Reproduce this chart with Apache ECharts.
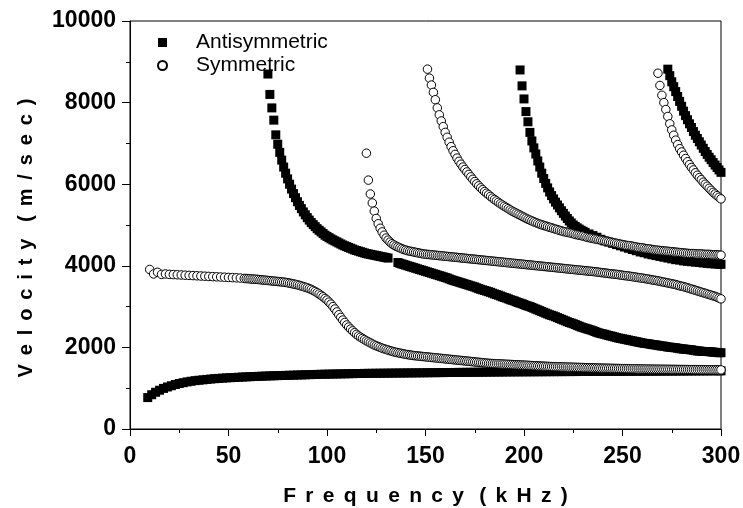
<!DOCTYPE html>
<html><head><meta charset="utf-8">
<script src="https://cdn.jsdelivr.net/npm/echarts@6/dist/echarts.min.js"></script>
<style>html,body{margin:0;padding:0;background:#fff}#c{width:743px;height:508px}</style>
</head><body><div id="c"></div>
<script>
const xTicks = [0, 50, 100, 150, 200, 250, 300];
const yTicks = [0, 2000, 4000, 6000, 8000, 10000];

// Antisymmetric modes [frequency kHz, velocity m/s]
const antiA0 = [[9,770],[11,840],[13,900],[15,950],[17,995],[19,1030],[21,1060],[23,1090],[25,1115],[27,1135],[29,1155],[31,1170],[33,1185],[35,1195],[37,1205],[39,1215],[41,1225],[43,1233],[45,1240],[47,1247],[49,1253],[51,1258],[53,1263],[55,1268],[57,1273],[59,1278],[61,1282],[63,1286],[65,1290],[67,1294],[69,1298],[71,1302],[73,1305],[75,1308],[77,1311],[79,1314],[81,1317],[83,1320],[85,1323],[87,1326],[89,1329],[91,1332],[93,1335],[95,1338],[97,1341],[99,1343],[101,1345],[103,1347],[105,1349],[107,1351],[109,1353],[111,1355],[113,1357],[115,1359],[117,1361],[119,1363],[121,1364],[123,1365],[125,1366],[127,1367],[129,1368],[131,1369],[133,1370],[135,1371],[137,1372],[139,1373],[141,1374],[143,1375],[145,1376],[147,1377],[149,1378],[151,1379],[153,1380],[155,1381],[157,1382],[159,1383],[161,1384],[163,1385],[165,1386],[167,1387],[169,1388],[171,1389],[173,1390],[175,1391],[177,1392],[179,1393],[181,1394],[183,1395],[185,1396],[187,1397],[189,1398],[191,1399],[193,1400],[195,1400],[197,1401],[199,1401],[201,1402],[203,1402],[205,1403],[207,1403],[209,1404],[211,1404],[213,1405],[215,1405],[217,1406],[219,1406],[221,1407],[223,1407],[225,1408],[227,1408],[229,1409],[231,1409],[233,1410],[235,1410],[237,1411],[239,1411],[241,1412],[243,1412],[245,1413],[247,1413],[249,1414],[251,1414],[253,1415],[255,1415],[257,1416],[259,1416],[261,1417],[263,1417],[265,1418],[267,1418],[269,1419],[271,1419],[273,1420],[275,1420],[277,1421],[279,1421],[281,1422],[283,1422],[285,1423],[287,1423],[289,1424],[291,1424],[293,1425],[295,1425],[297,1426],[299,1426],[300,1426]];
const antiA1a = [[70,8700],[71,8200],[72,7870],[73,7570],[74,7210],[75,6980],[76,6780],[77,6590],[78,6420],[79,6270],[80,6130],[81,6000],[82,5880],[83,5770],[84,5670],[85,5570],[86,5480],[87,5400],[88,5320],[89,5250],[90,5180],[91,5120],[92,5060],[93,5010],[94,4960],[95,4910],[96,4870],[97,4830],[98,4790],[99,4750],[100,4720],[101,4690],[102,4660],[103,4635],[104,4610],[105,4585],[106,4560],[107,4535],[108,4510],[109,4490],[110,4470],[111,4450],[112,4430],[113,4410],[114,4390],[115,4375],[116,4360],[117,4345],[118,4330],[119,4315],[120,4300],[121,4290],[122,4280],[123,4270],[124,4260],[125,4250],[126,4240],[127,4230],[128,4220],[129,4210],[130,4200],[131,4190]];
const antiA1b = [[136,4080],[137,4060],[138,4045],[139,4030],[140,4015],[141,4000],[142,3985],[143,3970],[144,3955],[145,3940],[146,3925],[147,3910],[148,3895],[149,3880],[150,3865],[151,3850],[152,3835],[153,3820],[154,3805],[155,3790],[156,3775],[157,3760],[158,3745],[159,3730],[160,3715],[161,3700],[162,3680],[163,3660],[164,3645],[165,3630],[166,3615],[167,3600],[168,3585],[169,3570],[170,3555],[171,3540],[172,3525],[173,3510],[174,3495],[175,3480],[176,3460],[177,3440],[178,3425],[179,3410],[180,3395],[181,3380],[182,3365],[183,3350],[184,3330],[185,3310],[186,3295],[187,3280],[188,3260],[189,3240],[190,3225],[191,3210],[192,3190],[193,3170],[194,3155],[195,3140],[196,3120],[197,3100],[198,3085],[199,3070],[200,3050],[201,3030],[202,3015],[203,3000],[204,2980],[205,2960],[206,2940],[207,2920],[208,2900],[209,2880],[210,2860],[211,2840],[212,2820],[213,2800],[214,2785],[215,2770],[216,2750],[217,2730],[218,2710],[219,2690],[220,2670],[221,2650],[222,2630],[223,2610],[224,2595],[225,2580],[226,2560],[227,2540],[228,2520],[229,2500],[230,2485],[231,2470],[232,2455],[233,2440],[234,2425],[235,2410],[236,2390],[237,2370],[238,2355],[239,2340],[240,2330],[241,2320],[242,2305],[243,2290],[244,2280],[245,2270],[246,2255],[247,2240],[248,2230],[249,2220],[250,2210],[251,2200],[252,2190],[253,2180],[254,2170],[255,2160],[256,2150],[257,2140],[258,2130],[259,2120],[260,2110],[261,2100],[262,2095],[263,2090],[264,2080],[265,2070],[266,2065],[267,2060],[268,2050],[269,2040],[270,2035],[271,2030],[272,2020],[273,2010],[274,2005],[275,2000],[276,1995],[277,1990],[278,1980],[279,1970],[280,1965],[281,1960],[282,1955],[283,1950],[284,1945],[285,1940],[286,1930],[287,1920],[288,1915],[289,1910],[290,1905],[291,1900],[292,1900],[293,1900],[294,1895],[295,1890],[296,1885],[297,1880],[298,1875],[299,1870],[300,1870]];
const antiA2 = [[198,8800],[199,8410],[200,8090],[201,7780],[202,7530],[203,7270],[204,7060],[205,6890],[206,6740],[207,6570],[208,6420],[209,6270],[210,6140],[211,6020],[212,5910],[213,5810],[214,5720],[215,5640],[216,5560],[217,5490],[218,5420],[219,5350],[220,5285],[221,5220],[222,5160],[223,5100],[224,5050],[225,5000],[226,4965],[227,4930],[228,4900],[229,4870],[230,4845],[231,4820],[233,4780],[235,4740],[237,4700],[239,4650],[241,4610],[243,4580],[245,4550],[247,4520],[249,4490],[251,4460],[253,4430],[255,4400],[257,4370],[259,4340],[261,4320],[263,4290],[265,4270],[267,4250],[269,4230],[271,4210],[273,4190],[275,4170],[277,4150],[279,4140],[281,4120],[283,4110],[285,4100],[287,4090],[289,4080],[291,4070],[293,4060],[295,4050],[297,4045],[299,4040],[300,4035]];
const antiA3 = [[273,8820],[274,8660],[275,8510],[276,8390],[277,8270],[278,8150],[279,8030],[280,7910],[281,7790],[282,7680],[283,7580],[284,7480],[285,7390],[286,7290],[287,7200],[288,7120],[289,7040],[290,6960],[291,6880],[292,6800],[293,6730],[294,6660],[295,6600],[296,6530],[297,6470],[298,6410],[299,6350],[300,6290]];

// Symmetric modes [frequency kHz, velocity m/s]
const symS0 = [[10,3910],[12,3800],[14,3840],[16,3790],[18,3800],[20,3790],[22,3785],[24,3780],[26,3775],[28,3770],[30,3765],[32,3760],[34,3755],[36,3750],[38,3745],[40,3740],[42,3735],[44,3730],[46,3725],[48,3720],[50,3715],[52,3710],[54,3705],[56,3700],[58,3690],[59,3688],[60,3685],[61,3680],[62,3675],[63,3672],[64,3670],[65,3665],[66,3660],[67,3655],[68,3650],[69,3645],[70,3640],[71,3635],[72,3630],[73,3625],[74,3620],[75,3615],[76,3610],[77,3605],[78,3600],[79,3593],[80,3585],[81,3575],[82,3565],[83,3555],[84,3545],[85,3533],[86,3520],[87,3505],[88,3490],[89,3475],[90,3460],[91,3440],[92,3420],[93,3395],[94,3370],[95,3340],[96,3310],[97,3275],[98,3240],[99,3200],[100,3160],[101,3110],[102,3060],[103,3000],[104,2940],[105,2870],[106,2800],[107,2735],[108,2670],[109,2610],[110,2550],[111,2500],[112,2450],[113,2405],[114,2360],[115,2320],[116,2280],[117,2250],[118,2220],[119,2190],[120,2160],[121,2135],[122,2110],[123,2085],[124,2060],[125,2040],[126,2020],[127,2000],[128,1980],[129,1965],[130,1950],[131,1935],[132,1920],[133,1905],[134,1890],[135,1880],[136,1870],[137,1860],[138,1850],[139,1840],[140,1830],[141,1822],[142,1815],[143,1808],[144,1800],[145,1795],[146,1790],[147,1785],[148,1780],[149,1775],[150,1770],[151,1765],[152,1760],[153,1755],[154,1750],[155,1745],[156,1740],[157,1735],[158,1730],[159,1725],[160,1720],[161,1715],[162,1710],[163,1705],[164,1700],[165,1695],[166,1690],[167,1685],[168,1680],[169,1675],[170,1670],[171,1665],[172,1660],[173,1655],[174,1650],[175,1645],[176,1640],[177,1635],[178,1630],[179,1625],[180,1620],[181,1615],[182,1610],[183,1607],[184,1605],[185,1602],[186,1600],[187,1597],[188,1595],[189,1592],[190,1590],[191,1587],[192,1585],[193,1582],[194,1580],[195,1577],[196,1575],[197,1572],[198,1570],[199,1567],[200,1565],[201,1562],[202,1560],[203,1557],[204,1555],[205,1552],[206,1550],[207,1547],[208,1545],[209,1542],[210,1540],[211,1537],[212,1535],[213,1532],[214,1530],[215,1528],[216,1527],[217,1525],[218,1524],[219,1522],[220,1521],[221,1519],[222,1518],[223,1516],[224,1515],[225,1513],[226,1512],[227,1510],[228,1509],[229,1507],[230,1506],[231,1504],[232,1503],[233,1501],[234,1500],[235,1498],[236,1497],[237,1495],[238,1494],[239,1492],[240,1491],[241,1490],[242,1489],[243,1488],[244,1487],[245,1486],[246,1485],[247,1484],[248,1483],[249,1482],[250,1481],[251,1480],[252,1479],[253,1478],[254,1477],[255,1476],[256,1475],[257,1474],[258,1473],[259,1472],[260,1471],[261,1470],[262,1469],[263,1468],[264,1467],[265,1466],[266,1466],[267,1465],[268,1465],[269,1464],[270,1464],[271,1463],[272,1463],[273,1462],[274,1462],[275,1461],[276,1461],[277,1460],[278,1460],[279,1459],[280,1459],[281,1458],[282,1458],[283,1457],[284,1457],[285,1456],[286,1456],[287,1455],[288,1455],[289,1454],[290,1454],[291,1453],[292,1453],[293,1452],[294,1452],[295,1451],[296,1451],[297,1450],[298,1450],[299,1449],[300,1449]];
const symS1 = [[120,6760],[121,6100],[122,5760],[123,5540],[124,5340],[125,5160],[126,5030],[127,4920],[128,4830],[129,4750],[130,4680],[131,4630],[132,4580],[133,4540],[134,4510],[135,4480],[136,4460],[137,4440],[138,4420],[139,4400],[140,4385],[141,4370],[142,4360],[143,4350],[144,4340],[145,4330],[146,4320],[147,4310],[148,4300],[149,4290],[150,4285],[151,4280],[152,4275],[153,4270],[154,4265],[155,4260],[156,4255],[157,4250],[158,4245],[159,4240],[160,4235],[161,4230],[162,4225],[163,4220],[164,4215],[165,4210],[166,4205],[167,4200],[168,4195],[169,4190],[170,4185],[171,4180],[172,4175],[173,4170],[174,4165],[175,4160],[176,4155],[177,4150],[178,4145],[179,4140],[180,4135],[181,4130],[182,4125],[183,4120],[184,4115],[185,4110],[186,4105],[187,4100],[188,4095],[189,4090],[190,4085],[191,4080],[192,4075],[193,4070],[194,4065],[195,4060],[196,4055],[197,4050],[198,4045],[199,4040],[200,4035],[201,4030],[202,4025],[203,4020],[204,4015],[205,4010],[206,4005],[207,4000],[208,3995],[209,3990],[210,3985],[211,3980],[212,3975],[213,3970],[214,3965],[215,3960],[216,3955],[217,3950],[218,3945],[219,3940],[220,3935],[221,3930],[222,3925],[223,3920],[224,3915],[225,3910],[226,3905],[227,3900],[228,3895],[229,3890],[230,3885],[231,3880],[232,3875],[233,3870],[234,3865],[235,3860],[236,3855],[237,3850],[238,3842],[239,3835],[240,3830],[241,3825],[242,3818],[243,3810],[244,3805],[245,3800],[246,3795],[247,3790],[248,3782],[249,3775],[250,3768],[251,3760],[252,3755],[253,3750],[254,3742],[255,3735],[256,3728],[257,3720],[258,3712],[259,3705],[260,3698],[261,3690],[262,3682],[263,3675],[264,3665],[265,3655],[266,3648],[267,3640],[268,3630],[269,3620],[270,3610],[271,3600],[272,3590],[273,3580],[274,3570],[275,3560],[276,3550],[277,3540],[278,3525],[279,3510],[280,3500],[281,3490],[282,3475],[283,3460],[284,3445],[285,3430],[286,3415],[287,3400],[288,3385],[289,3370],[290,3355],[291,3340],[292,3325],[293,3310],[294,3295],[295,3280],[296,3265],[297,3250],[298,3230],[299,3210],[300,3190]];
const symS2 = [[151,8820],[152,8600],[153,8430],[154,8250],[155,8070],[156,7870],[157,7700],[158,7550],[159,7410],[160,7270],[161,7150],[162,7030],[163,6920],[164,6820],[165,6730],[166,6640],[167,6560],[168,6490],[169,6420],[170,6360],[171,6300],[172,6240],[173,6180],[174,6120],[175,6065],[176,6010],[177,5960],[178,5910],[179,5865],[180,5820],[181,5780],[182,5740],[183,5700],[184,5660],[185,5625],[186,5590],[187,5555],[188,5520],[189,5490],[190,5460],[191,5430],[192,5400],[193,5370],[194,5340],[195,5315],[196,5290],[197,5265],[198,5240],[199,5215],[200,5190],[201,5165],[202,5140],[203,5120],[204,5100],[205,5080],[206,5060],[207,5040],[208,5020],[209,5005],[210,4990],[211,4975],[212,4960],[213,4945],[214,4930],[215,4915],[216,4900],[217,4885],[218,4870],[219,4855],[220,4840],[221,4830],[222,4820],[223,4810],[224,4800],[225,4785],[226,4770],[227,4760],[228,4750],[229,4740],[230,4730],[231,4715],[232,4700],[233,4690],[234,4680],[235,4670],[236,4660],[237,4650],[238,4640],[239,4630],[240,4620],[241,4610],[242,4600],[243,4590],[244,4580],[245,4570],[246,4560],[247,4550],[248,4540],[249,4530],[250,4520],[251,4510],[252,4500],[253,4495],[254,4490],[255,4480],[256,4470],[257,4460],[258,4450],[259,4445],[260,4440],[261,4430],[262,4420],[263,4415],[264,4410],[265,4400],[266,4390],[267,4385],[268,4380],[269,4375],[270,4370],[271,4365],[272,4360],[273,4355],[274,4350],[275,4345],[276,4340],[277,4335],[278,4330],[279,4325],[280,4320],[281,4315],[282,4310],[283,4305],[284,4300],[285,4300],[286,4300],[287,4295],[288,4290],[289,4290],[290,4290],[291,4285],[292,4280],[293,4280],[294,4280],[295,4275],[296,4270],[297,4270],[298,4270],[299,4265],[300,4260]];
const symS3 = [[268,8720],[269,8420],[270,8180],[271,8000],[272,7830],[273,7660],[274,7480],[275,7330],[276,7200],[277,7080],[278,6970],[279,6870],[280,6790],[281,6710],[282,6630],[283,6550],[284,6480],[285,6410],[286,6350],[287,6280],[288,6220],[289,6160],[290,6110],[291,6050],[292,6000],[293,5950],[294,5900],[295,5850],[296,5800],[297,5760],[298,5720],[299,5680],[300,5640]];

const antiCurves = [antiA0, antiA1a, antiA1b, antiA2, antiA3];
const symCurves = [symS0, symS1, symS2, symS3];

const FONT = '"Liberation Sans", Arial, sans-serif';
const SP = ' \u2006';
const spaced = s => s.split('').join(SP);
const chart = echarts.init(document.getElementById('c'), null, {renderer: 'canvas'});

const series = [];
antiCurves.forEach(d => series.push({
  name: 'Antisymmetric', type: 'scatter', data: d, symbol: 'rect', symbolSize: 9,
  itemStyle: {color: '#000', opacity: 1}, emphasis: {disabled: true}, clip: true
}));
symCurves.forEach(d => series.push({
  name: 'Symmetric', type: 'scatter', data: d, symbol: 'circle', symbolSize: 8.5,
  itemStyle: {color: '#fff', borderColor: '#000', borderWidth: 1, opacity: 1}, emphasis: {disabled: true}, clip: true
}));

chart.setOption({
  animation: false,
  backgroundColor: '#fff',
  grid: {left: 130, right: 22, top: 21, bottom: 79, show: true, borderColor: '#000', borderWidth: 1,
         backgroundColor: 'transparent', containLabel: false, outerBoundsMode: 'none'},
  legend: {
    orient: 'vertical', left: 152, top: 27, itemGap: 2, itemWidth: 9, itemHeight: 9,
    data: [
      {name: 'Antisymmetric', icon: 'rect'},
      {name: 'Symmetric', icon: 'circle'}
    ],
    textStyle: {fontFamily: FONT, fontSize: 21, color: '#000', padding: [0, 0, 0, 24]},
    selectedMode: false
  },
  xAxis: {
    type: 'value', min: xTicks[0], max: xTicks[xTicks.length - 1], interval: 50,
    name: spaced('Frequency') + SP + ' ' + spaced('(kHz)'), nameLocation: 'middle', nameGap: 57,
    nameTextStyle: {fontFamily: FONT, fontSize: 21, fontWeight: 'bold', color: '#000'},
    axisLine: {show: true, onZero: false, lineStyle: {color: '#000', width: 1}},
    axisTick: {show: true, inside: false, length: 7, lineStyle: {color: '#000', width: 1}},
    minorTick: {show: true, splitNumber: 2, length: 4, lineStyle: {color: '#000', width: 1}},
    axisLabel: {fontFamily: FONT, fontSize: 23, fontWeight: 'bold', color: '#000', margin: 16},
    splitLine: {show: false}
  },
  yAxis: {
    type: 'value', min: yTicks[0], max: yTicks[yTicks.length - 1], interval: 2000,
    name: spaced('Velocity') + '   ' + spaced('(m/sec)'), nameLocation: 'middle', nameGap: 94, nameRotate: 90,
    nameTextStyle: {fontFamily: FONT, fontSize: 20, fontWeight: 'bold', color: '#000', padding: [0, 26, 0, 0]},
    axisLine: {show: true, onZero: false, lineStyle: {color: '#000', width: 1}},
    axisTick: {show: true, inside: false, length: 8, lineStyle: {color: '#000', width: 1}},
    minorTick: {show: true, splitNumber: 2, length: 4, lineStyle: {color: '#000', width: 1}},
    axisLabel: {fontFamily: FONT, fontSize: 23, fontWeight: 'bold', color: '#000', margin: 14, formatter: v => String(v)},
    splitLine: {show: false}
  },
  series: series
});
</script></body></html>
